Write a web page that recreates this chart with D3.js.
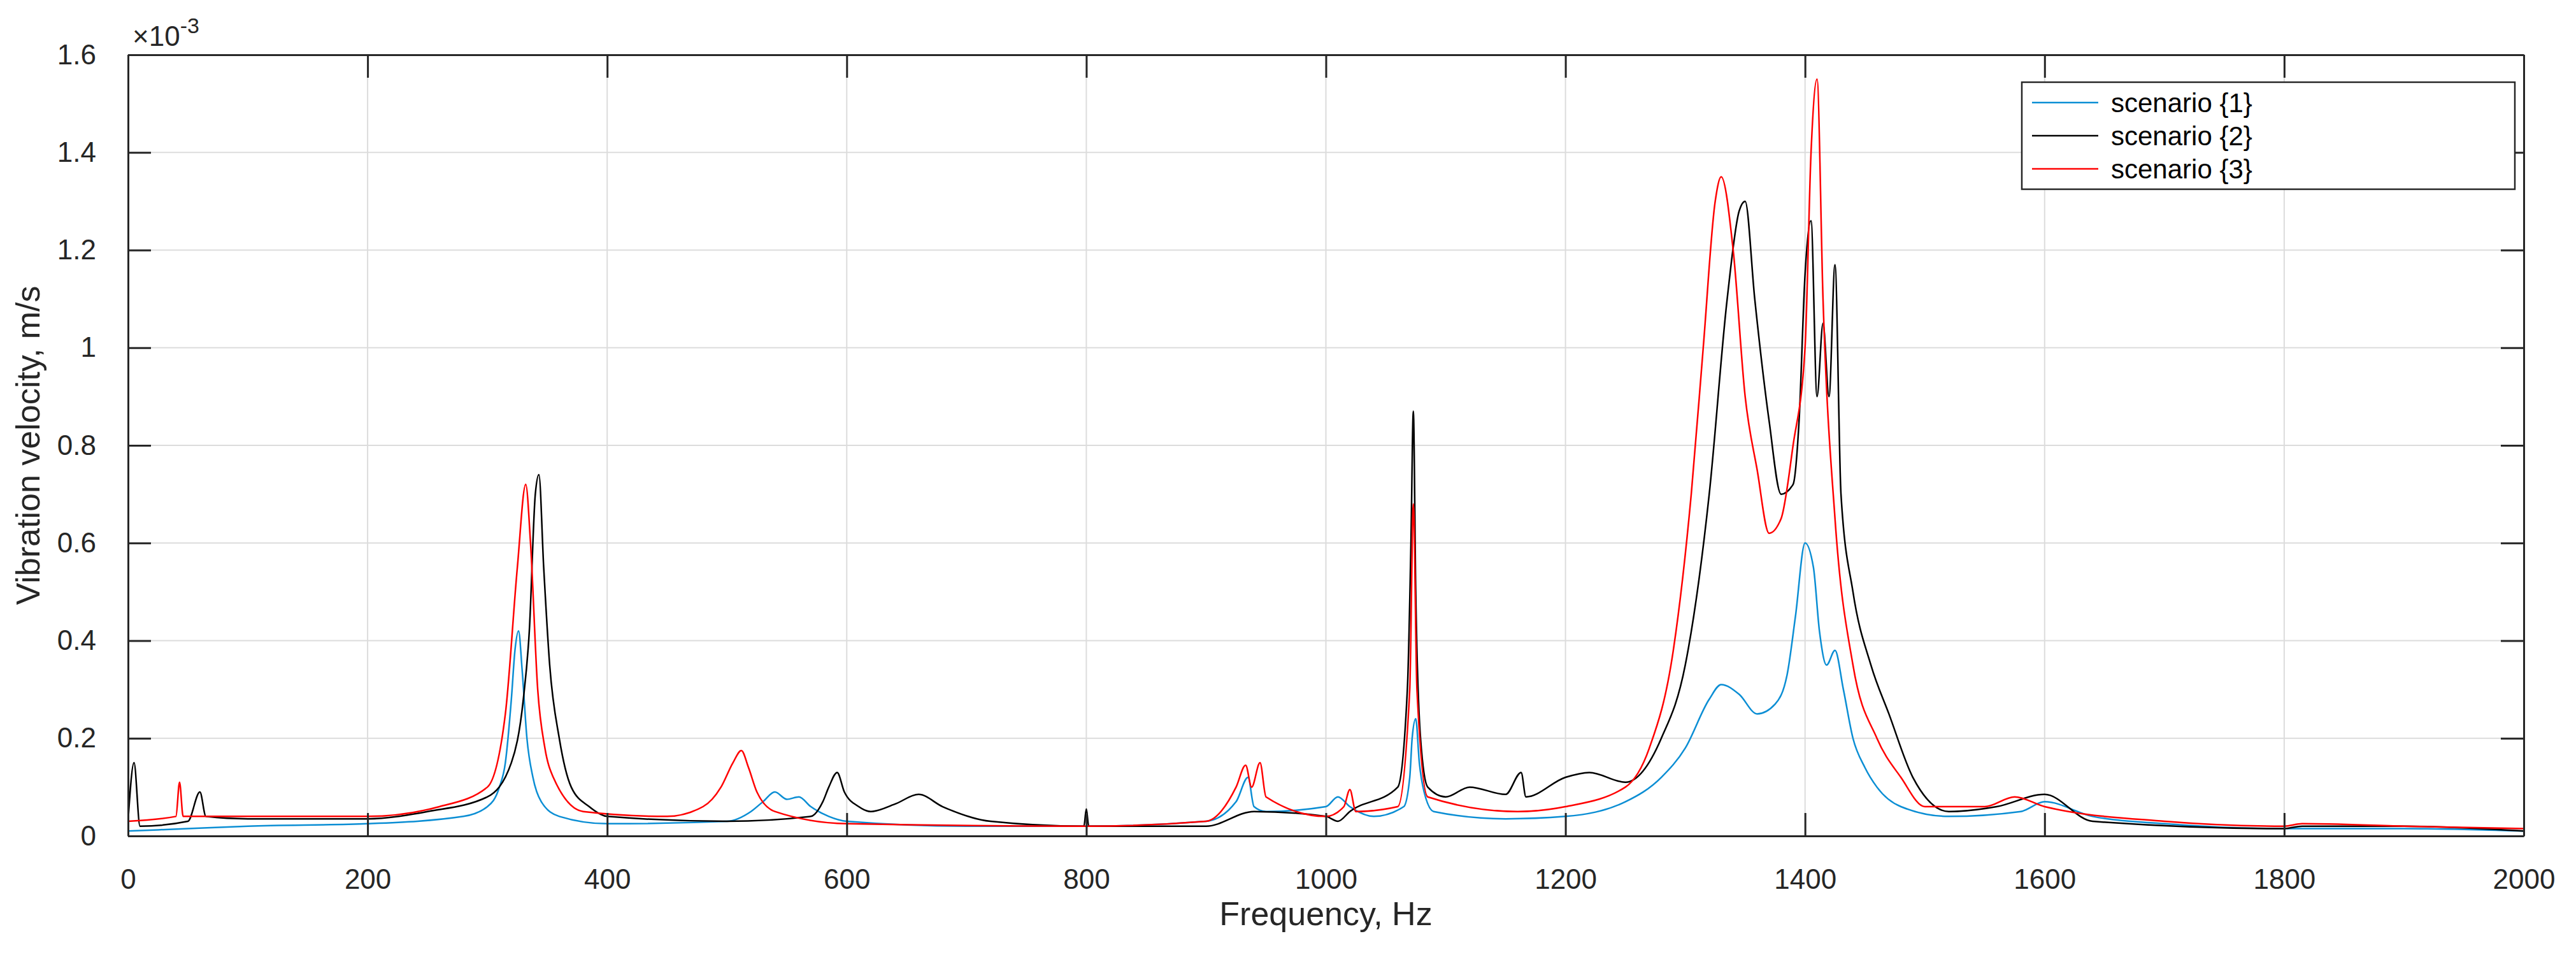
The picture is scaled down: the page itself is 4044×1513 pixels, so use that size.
<!DOCTYPE html>
<html><head><meta charset="utf-8">
<script src="https://cdn.jsdelivr.net/npm/d3@7"></script>
<style>body{margin:0;background:#fff}svg{font-family:Arial,"Liberation Sans",sans-serif}</style>
</head><body><svg id="c" width="4044" height="1513"></svg>
<script>
const xTicks=[0,200,400,600,800,1000,1200,1400,1600,1800,2000];
const yTicks=[0,0.2,0.4,0.6,0.8,1,1.2,1.4,1.6];
const seriesNames=["scenario {1}","scenario {2}","scenario {3}"];
const seriesColors=["#0b8ed4","#000000","#ff0000"];
const s1=[[0,0.01],[50,0.015],[100,0.02],[200,0.025],[280,0.04],[300,0.06],[310,0.1],[315,0.15],[320,0.28],[323,0.38],[326,0.42],[329,0.34],[333,0.2],[338,0.12],[345,0.07],[360,0.04],[400,0.025],[500,0.03],[520,0.05],[530,0.07],[540,0.09],[550,0.075],[560,0.08],[570,0.06],[585,0.04],[600,0.03],[700,0.02],[800,0.02],[900,0.03],[925,0.07],[935,0.12],[940,0.06],[950,0.05],[1000,0.06],[1010,0.08],[1020,0.06],[1040,0.04],[1065,0.06],[1070,0.12],[1072,0.2],[1075,0.24],[1078,0.15],[1082,0.09],[1090,0.05],[1150,0.035],[1200,0.04],[1250,0.07],[1280,0.12],[1300,0.18],[1320,0.28],[1330,0.31],[1345,0.29],[1360,0.25],[1375,0.27],[1385,0.33],[1392,0.45],[1400,0.6],[1407,0.55],[1412,0.42],[1418,0.35],[1425,0.38],[1432,0.3],[1440,0.2],[1450,0.14],[1460,0.1],[1480,0.06],[1520,0.04],[1580,0.05],[1600,0.07],[1640,0.04],[1700,0.025],[1800,0.015],[1900,0.015],[2000,0.01]];
const s2=[[0,0.03],[5,0.15],[10,0.02],[50,0.03],[60,0.09],[65,0.04],[100,0.035],[200,0.035],[250,0.05],[300,0.08],[320,0.15],[330,0.28],[335,0.42],[340,0.7],[343,0.74],[347,0.55],[352,0.35],[360,0.2],[370,0.1],[385,0.06],[400,0.04],[500,0.03],[570,0.04],[580,0.07],[585,0.1],[592,0.13],[598,0.09],[610,0.06],[620,0.05],[640,0.065],[660,0.085],[680,0.06],[720,0.03],[798,0.02],[800,0.055],[802,0.02],[900,0.02],[940,0.05],[1000,0.04],[1010,0.03],[1020,0.05],[1060,0.1],[1068,0.3],[1071,0.6],[1073,0.87],[1075,0.5],[1079,0.2],[1085,0.1],[1100,0.08],[1120,0.1],[1150,0.085],[1163,0.13],[1167,0.08],[1200,0.12],[1220,0.13],[1250,0.11],[1280,0.2],[1300,0.35],[1320,0.7],[1335,1.1],[1345,1.28],[1350,1.3],[1358,1.1],[1370,0.85],[1380,0.7],[1390,0.72],[1395,0.85],[1400,1.15],[1405,1.26],[1410,0.9],[1415,1.05],[1420,0.9],[1425,1.17],[1430,0.7],[1440,0.5],[1455,0.35],[1470,0.25],[1490,0.12],[1520,0.05],[1560,0.06],[1600,0.085],[1640,0.03],[1800,0.015],[1815,0.02],[1900,0.02],[2000,0.01]];
const s3=[[0,0.03],[40,0.04],[43,0.11],[46,0.04],[100,0.04],[200,0.04],[260,0.06],[300,0.1],[315,0.25],[325,0.55],[332,0.72],[336,0.6],[342,0.3],[348,0.18],[355,0.12],[380,0.05],[450,0.04],[480,0.06],[495,0.1],[505,0.15],[512,0.175],[518,0.14],[525,0.09],[540,0.05],[600,0.025],[800,0.02],[900,0.03],[925,0.1],[933,0.145],[938,0.1],[945,0.15],[950,0.08],[1000,0.04],[1015,0.06],[1020,0.095],[1025,0.05],[1060,0.06],[1070,0.3],[1073,0.68],[1076,0.3],[1085,0.08],[1160,0.05],[1200,0.06],[1250,0.1],[1270,0.18],[1290,0.38],[1305,0.7],[1315,1.0],[1325,1.3],[1330,1.35],[1340,1.2],[1350,0.9],[1360,0.75],[1370,0.62],[1380,0.65],[1390,0.8],[1400,1.0],[1405,1.4],[1410,1.55],[1415,1.1],[1425,0.65],[1440,0.35],[1460,0.2],[1480,0.12],[1500,0.06],[1550,0.06],[1575,0.08],[1600,0.06],[1700,0.03],[1800,0.02],[1815,0.025],[1900,0.02],[2000,0.015]];
const series=[s1,s2,s3];

const L=201,R=3962,T=86,B=1312;
const svg=d3.select("#c");
const x=d3.scaleLinear().domain([0,2000]).range([L,R]);
const y=d3.scaleLinear().domain([0,1.6]).range([B,T]);
svg.append("g").selectAll("line").data(xTicks).join("line").attr("x1",d=>x(d)).attr("x2",d=>x(d)).attr("y1",T).attr("y2",B).attr("stroke","#dcdcdc").attr("stroke-width",2);
svg.append("g").selectAll("line").data(yTicks).join("line").attr("y1",d=>y(d)).attr("y2",d=>y(d)).attr("x1",L).attr("x2",R).attr("stroke","#dcdcdc").attr("stroke-width",2);
const line=d3.line().x(d=>x(d[0])).y(d=>y(d[1])).curve(d3.curveMonotoneX);
svg.append("clipPath").attr("id","cp").append("rect").attr("x",L).attr("y",T).attr("width",R-L).attr("height",B-T);
series.forEach((s,i)=>svg.append("path").attr("d",line(s)).attr("fill","none").attr("stroke",seriesColors[i]).attr("stroke-width",2.5).attr("clip-path","url(#cp)"));
const fmt=d=>String(+d.toFixed(1));
const gx=svg.append("g").attr("transform",`translate(0,${B})`).call(d3.axisBottom(x).tickValues(xTicks).tickFormat(d=>d).tickSizeInner(-36).tickSizeOuter(0).tickPadding(52));
const gx2=svg.append("g").attr("transform",`translate(0,${T})`).call(d3.axisTop(x).tickValues(xTicks).tickFormat("").tickSizeInner(-36).tickSizeOuter(0));
const gy=svg.append("g").attr("transform",`translate(${L},0)`).call(d3.axisLeft(y).tickValues(yTicks).tickFormat(fmt).tickSizeInner(-36).tickSizeOuter(0).tickPadding(50));
const gy2=svg.append("g").attr("transform",`translate(${R},0)`).call(d3.axisRight(y).tickValues(yTicks).tickFormat("").tickSizeInner(-36).tickSizeOuter(0));
[gx,gx2,gy,gy2].forEach(g=>{g.selectAll("path").attr("stroke","#262626").attr("stroke-width",3);g.selectAll("line").attr("stroke","#262626").attr("stroke-width",3);g.selectAll("text").attr("font-size",44).attr("fill","#262626").attr("font-family","Arial,'Liberation Sans',sans-serif");});
svg.append("text").attr("x",208).attr("y",72).attr("font-size",44).attr("fill","#262626").html('×10<tspan dy="-20" font-size="34">-3</tspan>');
svg.append("text").attr("x",(L+R)/2).attr("y",1452).attr("text-anchor","middle").attr("font-size",52).attr("fill","#262626").text("Frequency, Hz");
svg.append("text").attr("transform",`translate(62,${(T+B)/2}) rotate(-90)`).attr("text-anchor","middle").attr("font-size",52).attr("fill","#262626").text("Vibration velocity, m/s");
const lg=svg.append("g").attr("transform","translate(3174,129)");
lg.append("rect").attr("width",774).attr("height",168).attr("fill","#fff").attr("stroke","#262626").attr("stroke-width",2.5);
seriesNames.forEach((n,i)=>{const yy=32+i*52;
 lg.append("line").attr("x1",16).attr("x2",120).attr("y1",yy).attr("y2",yy).attr("stroke",seriesColors[i]).attr("stroke-width",2.5);
 lg.append("text").attr("x",140).attr("y",yy+15).attr("font-size",42).attr("fill","#000").text(n);});
</script></body></html>
